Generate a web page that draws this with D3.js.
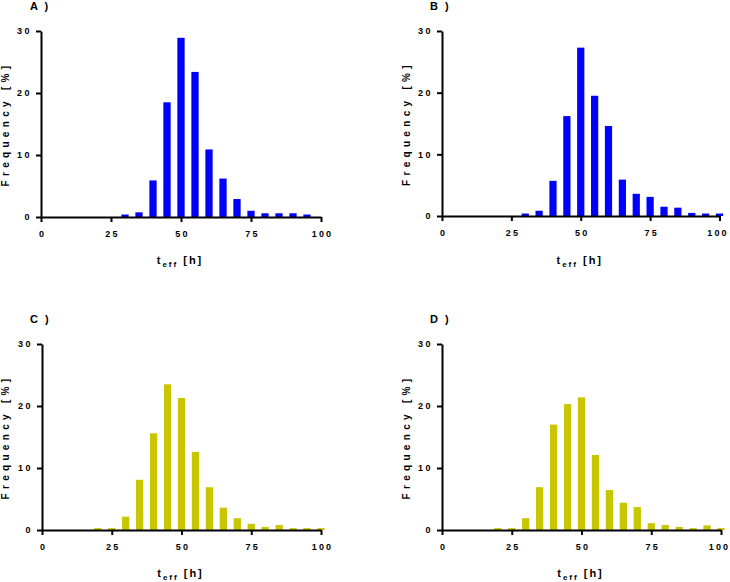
<!DOCTYPE html>
<html>
<head>
<meta charset="utf-8">
<script src="https://cdn.jsdelivr.net/npm/d3@7"></script>
<style>
  html, body { margin: 0; padding: 0; background: #fff; }
  svg { display: block; }
  text { font-family: "Liberation Sans", Arial, sans-serif; font-weight: bold; fill: #000; }
</style>
</head>
<body>
<svg id="chart" width="730" height="582"></svg>
<script>
// ---- data ----
const bins = [20, 25, 30, 35, 40, 45, 50, 55, 60, 65, 70, 75, 80, 85, 90, 95, 100];
const valuesA = [0, 0, 0.4, 0.75, 5.9, 18.5, 28.9, 23.4, 10.9, 6.2, 2.9, 1.0, 0.6, 0.6, 0.6, 0.4, 0];
const valuesB = [0, 0, 0.4, 0.85, 5.7, 16.2, 27.3, 19.5, 14.6, 5.9, 3.6, 3.1, 1.5, 1.35, 0.5, 0.4, 0.4];
const valuesC = [0.3, 0.3, 2.15, 8.1, 15.6, 23.5, 21.3, 12.6, 6.9, 3.6, 1.9, 1.0, 0.5, 0.8, 0.3, 0.3, 0.3];
const valuesD = [0.3, 0.3, 1.9, 6.9, 17.0, 20.3, 21.4, 12.1, 6.45, 4.4, 3.7, 1.1, 0.8, 0.5, 0.3, 0.75, 0.3];
const xTicks = [0, 25, 50, 75, 100];
const yTicks = [0, 10, 20, 30];
const panelLabels = ["A )", "B )", "C )", "D )"];
const colorBlue = "#0000ff";
const colorYellow = "#c8c600";

// ---- layout ----
const panels = [
  { label: panelLabels[0], values: valuesA, color: colorBlue,   x0: 41,  x1: 321, y0: 217, y1: 31,  lx: 30,  ly: 10,  ylx: 9,   xly: 264 },
  { label: panelLabels[1], values: valuesB, color: colorBlue,   x0: 442, x1: 719.5, y0: 216, y1: 31, lx: 430, ly: 10,  ylx: 410, xly: 264 },
  { label: panelLabels[2], values: valuesC, color: colorYellow, x0: 42,  x1: 321, y0: 530, y1: 344, lx: 30,  ly: 323, ylx: 9,   xly: 577 },
  { label: panelLabels[3], values: valuesD, color: colorYellow, x0: 442, x1: 721, y0: 530, y1: 344, lx: 430, ly: 323, ylx: 410, xly: 577 }
];

const svg = d3.select("#chart");
const barUnits = 2.6;

panels.forEach(p => {
  const x = d3.scaleLinear().domain([0, 100]).range([p.x0, p.x1]);
  const y = d3.scaleLinear().domain([0, 30]).range([p.y0, p.y1]);
  const g = svg.append("g");

  // bars
  const data = bins.map((b, i) => ({ b, v: p.values[i] })).filter(d => d.v > 0);
  g.selectAll("rect.bar").data(data).enter().append("rect")
    .attr("class", "bar")
    .attr("x", d => x(d.b - barUnits / 2))
    .attr("width", d => x(d.b + barUnits / 2) - x(d.b - barUnits / 2))
    .attr("y", d => y(d.v))
    .attr("height", d => y(0) - y(d.v))
    .attr("fill", p.color);

  // x axis
  const xAxis = d3.axisBottom(x).tickValues(xTicks).tickSize(5).tickSizeOuter(0).tickFormat(d => String(d));
  const gx = g.append("g").attr("transform", `translate(0,${y(0)})`).call(xAxis);
  gx.select(".domain").attr("stroke", "#000").attr("stroke-width", 2);
  gx.selectAll(".tick line").attr("stroke", "#000").attr("stroke-width", 2);
  gx.selectAll(".tick text").attr("y", 17).attr("dy", "0.32em")
    .attr("x", d => (d === 100 && p.x1 > 715) ? -2 : 1)
    .style("font-size", "9px").style("font-weight", "bold").attr("letter-spacing", "2.2px")
    .attr("font-family", "Liberation Sans, Arial, sans-serif");

  // y axis
  const yAxis = d3.axisLeft(y).tickValues(yTicks).tickSize(5).tickSizeOuter(0).tickFormat(d => String(d));
  const gy = g.append("g").attr("transform", `translate(${x(0)},0)`).call(yAxis);
  gy.select(".domain").attr("stroke", "#000").attr("stroke-width", 2);
  gy.selectAll(".tick line").attr("stroke", "#000").attr("stroke-width", 2);
  gy.selectAll(".tick text").attr("x", -9)
    .style("font-size", "9px").style("font-weight", "bold").attr("letter-spacing", "2.5px")
    .attr("font-family", "Liberation Sans, Arial, sans-serif");

  // panel label
  g.append("text").attr("x", p.lx).attr("y", p.ly)
    .style("font-size", "11px").attr("letter-spacing", "2px").text(p.label);

  // y label
  const ymid = (p.y0 + p.y1) / 2;
  g.append("text")
    .attr("transform", `translate(${p.ylx},${ymid}) rotate(-90)`)
    .attr("text-anchor", "middle")
    .style("font-size", "10px").attr("letter-spacing", "4.3px")
    .text("Frequency [%]");

  // x label
  const xl = g.append("text")
    .attr("x", (p.x0 + p.x1) / 2 - 1).attr("y", p.xly)
    .attr("text-anchor", "middle")
    .style("font-size", "11px").attr("letter-spacing", "2px");
  xl.append("tspan").text("t");
  xl.append("tspan").attr("dy", 3).style("font-size", "8px").text("eff");
  xl.append("tspan").attr("dy", -3).text(" [h]");
});
</script>
</body>
</html>
